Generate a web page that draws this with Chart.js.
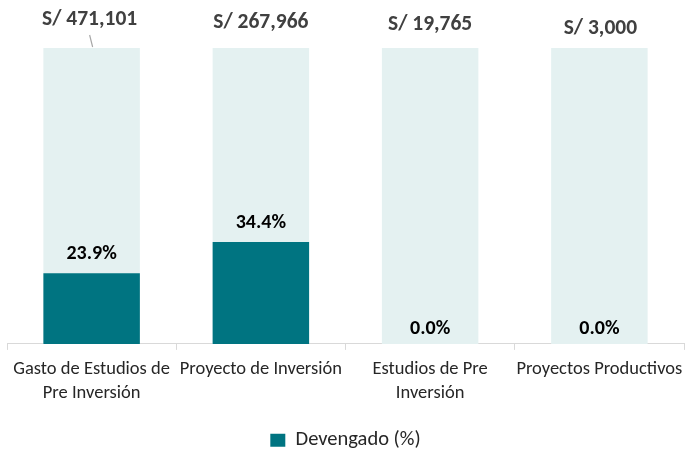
<!DOCTYPE html>
<html><head><meta charset="utf-8">
<script src="https://cdn.jsdelivr.net/npm/chart.js@4"></script>
<style>html,body{margin:0;padding:0;background:#fff}#wrap{width:686px;height:450px}</style>
</head><body><div id="wrap"><canvas id="c" width="686" height="450"></canvas></div>
<script>
const categories = [["Gasto de Estudios de","Pre Inversión"],"Proyecto de Inversión",["Estudios de Pre","Inversión"],"Proyectos Productivos"];
const devengadoPct = [23.9, 34.4, 0.0, 0.0];
const totalLabels = ["S/ 471,101","S/ 267,966","S/ 19,765","S/ 3,000"];
const fullScale = [100, 100, 100, 100];

const FONT = "Carlito, Lato, 'Liberation Sans', sans-serif";
const topOffsets = [28, 25, 23, 19];
const topDx = [-2, 0, 0, 1];

const labelsPlugin = {
  id: 'labelsPlugin',
  afterDatasetsDraw(chart) {
    const ctx = chart.ctx;
    const metaPct = chart.getDatasetMeta(0);
    const metaBg = chart.getDatasetMeta(1);
    ctx.save();
    ctx.textAlign = 'center';
    ctx.textBaseline = 'middle';
    metaPct.data.forEach((bar, i) => {
      ctx.font = "bold 20px " + FONT;
      ctx.fillStyle = '#000000';
      const off = devengadoPct[i] > 0 ? 19 : 15;
      ctx.fillText(devengadoPct[i].toFixed(1) + '%', bar.x, bar.y - off);
    });
    metaBg.data.forEach((bar, i) => {
      ctx.font = "bold 21.5px " + FONT;
      ctx.fillStyle = '#404040';
      ctx.fillText(totalLabels[i], bar.x + topDx[i], bar.y - topOffsets[i]);
    });
    const b0 = metaBg.data[0];
    ctx.strokeStyle = '#A6A6A6';
    ctx.lineWidth = 1.2;
    ctx.beginPath();
    ctx.moveTo(b0.x - 2, b0.y - 13);
    ctx.lineTo(b0.x + 1, b0.y - 1);
    ctx.stroke();
    ctx.restore();
  }
};

new Chart(document.getElementById('c'), {
  type: 'bar',
  data: {
    labels: categories,
    datasets: [
      { label: 'Devengado (%)', data: devengadoPct, backgroundColor: '#007481', order: 0, barPercentage: 0.57, categoryPercentage: 1.0 },
      { label: 'Total', data: fullScale, backgroundColor: '#E4F1F1', order: 1, barPercentage: 0.57, categoryPercentage: 1.0 }
    ]
  },
  options: {
    responsive: false,
    animation: false,
    layout: { padding: { top: 48, left: 7, right: 2, bottom: 0 } },
    scales: {
      x: {
        stacked: true,
        afterFit: (scale) => { scale.height += 17; scale.paddingLeft = 0; scale.paddingRight = 0; },
        grid: { offset: true, drawOnChartArea: false, color: '#D9D9D9', tickLength: 6 },
        border: { color: '#D9D9D9' },
        ticks: { color: '#262626', font: { family: FONT, size: 18.5, lineHeight: 1.3 }, maxRotation: 0, autoSkip: false, padding: 7 }
      },
      y: { stacked: false, min: 0, max: 100, display: false }
    },
    plugins: {
      legend: {
        position: 'bottom',
        maxHeight: 21,
        labels: {
          filter: (item) => item.datasetIndex === 0,
          color: '#262626',
          font: { family: FONT, size: 20.5 },
          boxWidth: 15, boxHeight: 13, padding: 1
        }
      },
      tooltip: { enabled: false }
    }
  },
  plugins: [labelsPlugin]
});
</script></body></html>
